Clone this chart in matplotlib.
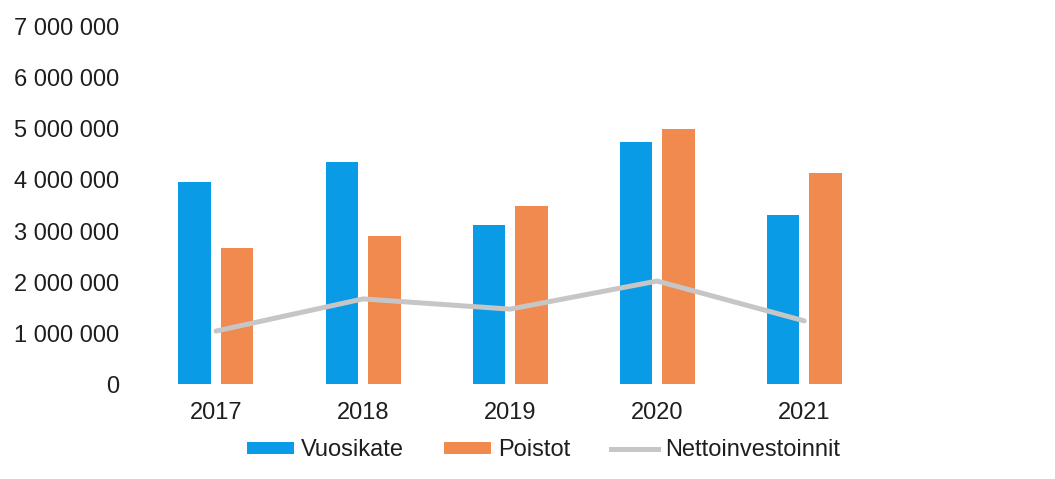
import matplotlib
matplotlib.use("Agg")
import matplotlib.pyplot as plt
import numpy as np
from matplotlib.patches import Patch
from matplotlib.lines import Line2D

years = ["2017", "2018", "2019", "2020", "2021"]
vuosikate = [3960000, 4350000, 3120000, 4750000, 3310000]
poistot = [2670000, 2900000, 3490000, 5000000, 4140000]
nettoinvestoinnit = [1040000, 1670000, 1470000, 2020000, 1240000]
yticks = [0, 1000000, 2000000, 3000000, 4000000, 5000000, 6000000, 7000000]
ytick_labels = ["0", "1 000 000", "2 000 000", "3 000 000", "4 000 000",
                "5 000 000", "6 000 000", "7 000 000"]

plt.rcParams['font.family'] = ['Liberation Sans', 'DejaVu Sans']

blue = "#0A9BE6"
orange = "#F08A4E"
gray = "#C6C6C6"
txt = "#1E1E1E"

fig = plt.figure(figsize=(10.55, 4.79), dpi=100)
ax = fig.add_axes([0.135, 0.198, 0.697, 0.746])

x = np.arange(len(years))
w = 0.22
ax.bar(x - 0.145, vuosikate, width=w, color=blue)
ax.bar(x + 0.145, poistot, width=w, color=orange)
ax.plot(x, nettoinvestoinnit, color=gray, linewidth=3.6, solid_capstyle='round')

ax.set_xlim(-0.5, len(years) - 0.5)
ax.set_ylim(0, 7000000)
ax.set_yticks(yticks)
ax.set_yticklabels(ytick_labels)
ax.set_xticks(x)
ax.set_xticklabels(years)
ax.tick_params(axis='both', length=0, labelsize=17, colors=txt)
ax.tick_params(axis='y', pad=17)
ax.tick_params(axis='x', pad=13)
for s in ax.spines.values():
    s.set_visible(False)

handles = [Patch(facecolor=blue), Patch(facecolor=orange),
           Line2D([0], [0], color=gray, linewidth=3.6)]
fig.legend(handles, ["Vuosikate", "Poistot", "Nettoinvestoinnit"],
           loc='center', bbox_to_anchor=(0.515, 0.06), ncol=3, frameon=False,
           fontsize=17, handlelength=2.0, handleheight=0.45, columnspacing=1.7,
           handletextpad=0.3, labelcolor=txt)

fig.savefig("out.png", dpi=100, facecolor="white")
